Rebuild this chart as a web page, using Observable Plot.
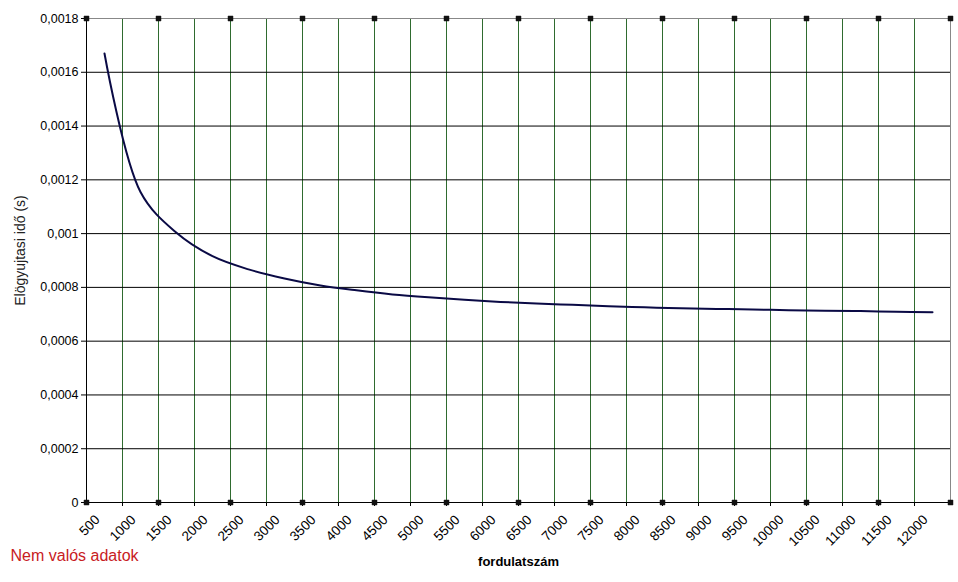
<!DOCTYPE html>
<html>
<head>
<meta charset="utf-8">
<script src="https://cdn.jsdelivr.net/npm/d3@7"></script>
<script src="https://cdn.jsdelivr.net/npm/@observablehq/plot@0.6"></script>
<style>
  html, body { margin: 0; padding: 0; background: #fff; }
</style>
</head>
<body>
<div id="chart"></div>
<script>
// Categories (engine speed) and values
const rpm = [500, 1000, 1500, 2000, 2500, 3000, 3500, 4000, 4500, 5000, 5500, 6000,
  6500, 7000, 7500, 8000, 8500, 9000, 9500, 10000, 10500, 11000, 11500, 12000];
const ignitionTime = [0.00167, 0.001155, 0.001003, 0.000916, 0.000867, 0.000833, 0.000807, 0.000789,
  0.000774, 0.000763, 0.000754, 0.000746, 0.00074, 0.000735, 0.00073, 0.000726,
  0.000722, 0.00072, 0.000718, 0.000715, 0.000713, 0.000712, 0.000709, 0.000708];
// category boundaries (where the vertical gridlines and tick marks sit)
const boundaries = [750, 1250, 1750, 2250, 2750, 3250, 3750, 4250, 4750, 5250, 5750, 6250,
  6750, 7250, 7750, 8250, 8750, 9250, 9750, 10250, 10750, 11250, 11750];
const markerX = [250, 1250, 2250, 3250, 4250, 5250, 6250, 7250, 8250, 9250, 10250, 11250, 12250];
const yTicks = [0, 0.0002, 0.0004, 0.0006, 0.0008, 0.001, 0.0012, 0.0014, 0.0016, 0.0018];
const yGrid = [0.0002, 0.0004, 0.0006, 0.0008, 0.001, 0.0012, 0.0014, 0.0016];
const markerY = [0, 0.0018];

const series = rpm.map((r, i) => ({rpm: r, t: ignitionTime[i]}));
const markers = markerY.flatMap(y => markerX.map(x => ({x, y})));

const chart = Plot.plot({
  width: 958,
  height: 582,
  marginLeft: 86,
  marginRight: 8,
  marginTop: 18,
  marginBottom: 80,
  style: {fontFamily: "'Liberation Sans', Arial, sans-serif", fontSize: "12px", background: "#fff", color: "#000"},
  x: {domain: [250, 12250]},
  y: {domain: [0, 0.0018]},
  marks: [
    Plot.ruleX(boundaries, {stroke: "#2f6b2f", strokeWidth: 1}),
    Plot.ruleY(yGrid, {stroke: "#000", strokeWidth: 1}),
    Plot.ruleY([0.0018], {stroke: "#888", strokeWidth: 1}),
    Plot.ruleX([12250], {stroke: "#888", strokeWidth: 1}),
    Plot.ruleX([250], {stroke: "#000", strokeWidth: 1}),
    Plot.ruleY([0], {stroke: "#000", strokeWidth: 1}),
    Plot.axisY(yTicks, {tickSize: 5, tickPadding: 3, fontSize: 12.5,
      tickFormat: d => String(d).replace(".", ","), label: null}),
    Plot.axisX(boundaries, {tickSize: 4, tickFormat: () => "", label: null}),
    Plot.axisX(rpm, {tickSize: 0, tickPadding: 15, tickRotate: -45, fontSize: 13.5, dx: -7,
      tickFormat: d => String(d), label: null}),
    Plot.line(series, {x: "rpm", y: "t", stroke: "#0a0a45", strokeWidth: 2, curve: "catmull-rom"}),
    Plot.dot(markers, {x: "x", y: "y", symbol: "square", r: 2.8, fill: "#111", stroke: "#111", strokeWidth: 0.5}),
    Plot.text(["Elögyujtasi idő (s)"], {frameAnchor: "left", rotate: -90, dx: -66, dy: -10, textAnchor: "middle", fontSize: 14, fill: "#222"}),
    Plot.text(["fordulatszám"], {frameAnchor: "bottom", dy: 63, fontSize: 13, fontWeight: "bold", fill: "#000"}),
    Plot.text(["Nem valós adatok"], {frameAnchor: "bottom-left", dx: -76, dy: 58, textAnchor: "start", fontSize: 16, fill: "#c8201e"})
  ]
});
document.getElementById("chart").appendChild(chart);
</script>
</body>
</html>
